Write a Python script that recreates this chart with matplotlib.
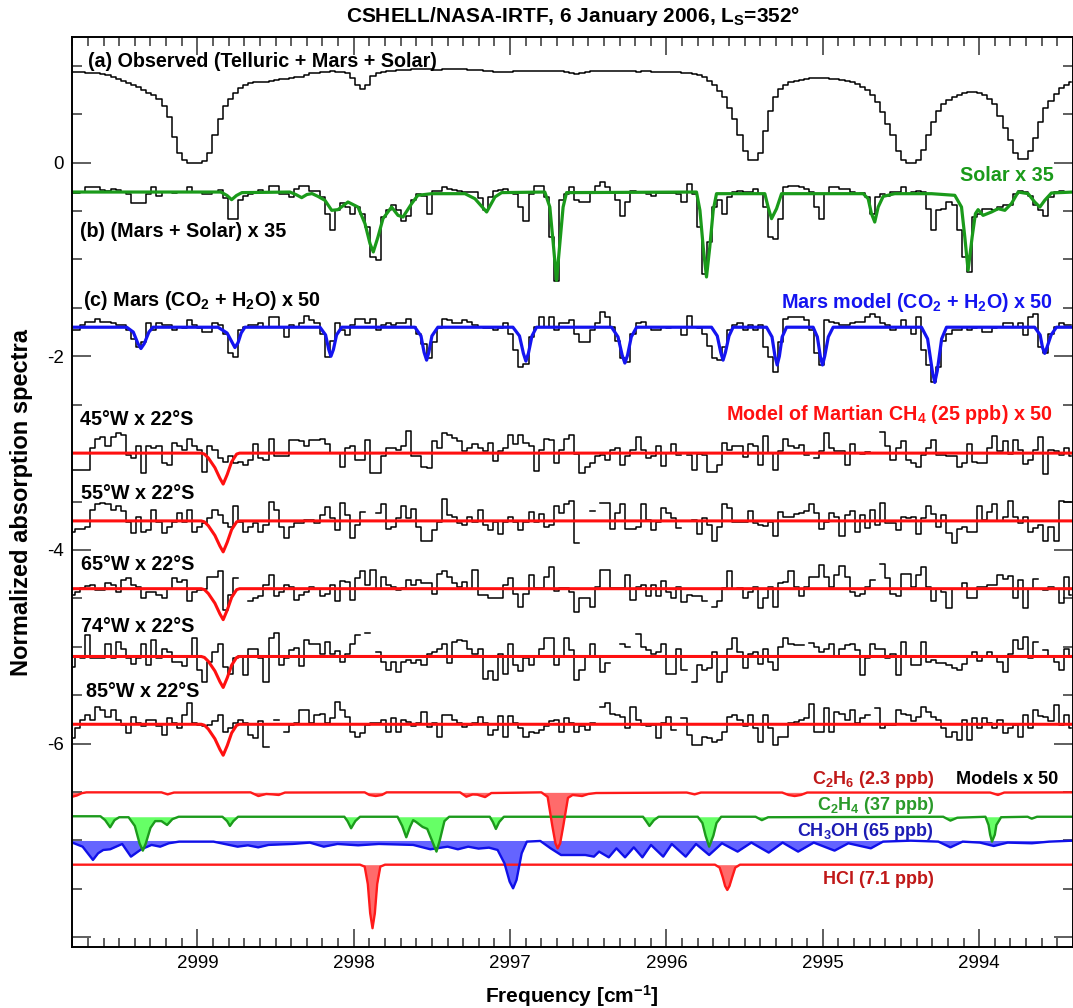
import numpy as np
import matplotlib
matplotlib.use('Agg')
from matplotlib import pyplot as plt
from matplotlib.ticker import MultipleLocator, FuncFormatter

plt.rcParams['font.family'] = ['Liberation Sans', 'DejaVu Sans']
plt.rcParams['mathtext.fontset'] = 'custom'
plt.rcParams['mathtext.rm'] = 'Liberation Sans:bold'
plt.rcParams['mathtext.bf'] = 'Liberation Sans:bold'
plt.rcParams['mathtext.it'] = 'Liberation Sans:bold'
plt.rcParams['mathtext.default'] = 'rm'
plt.rcParams['axes.unicode_minus'] = False

# detector pixel grid (cm-1)
freq_start = 2999.80
freq_step = 0.0326
n_pix = 197

# (a) observed spectrum
obs_a = [0.94, 0.94, 0.94, 0.93, 0.93, 0.92, 0.91, 0.90, 0.88, 0.86,
         0.84, 0.82, 0.80, 0.78, 0.75, 0.72, 0.70, 0.66, 0.58, 0.47,
         0.26, 0.10, 0.03, 0.00, 0.00, 0.00, 0.02, 0.10, 0.28, 0.45,
         0.58, 0.66, 0.72, 0.77, 0.80, 0.82, 0.83, 0.83, 0.83, 0.84,
         0.85, 0.86, 0.86, 0.87, 0.88, 0.88, 0.90, 0.92, 0.93, 0.94,
         0.94, 0.95, 0.94, 0.94, 0.92, 0.87, 0.80, 0.76, 0.80, 0.89,
         0.92, 0.94, 0.95, 0.95, 0.96, 0.96, 0.96, 0.97, 0.97, 0.97,
         0.97, 0.96, 0.96, 0.97, 0.97, 0.97, 0.97, 0.97, 0.96, 0.96,
         0.96, 0.95, 0.95, 0.94, 0.94, 0.94, 0.94, 0.95, 0.95, 0.95,
         0.95, 0.95, 0.95, 0.95, 0.95, 0.95, 0.95, 0.94, 0.92, 0.91,
         0.92, 0.94, 0.95, 0.95, 0.95, 0.95, 0.95, 0.95, 0.95, 0.95,
         0.95, 0.94, 0.95, 0.95, 0.94, 0.94, 0.94, 0.94, 0.94, 0.94,
         0.93, 0.92, 0.91, 0.90, 0.88, 0.84, 0.80, 0.74, 0.68, 0.56,
         0.45, 0.28, 0.12, 0.03, 0.03, 0.10, 0.33, 0.53, 0.68, 0.76,
         0.80, 0.83, 0.84, 0.85, 0.86, 0.87, 0.87, 0.87, 0.87, 0.86,
         0.86, 0.85, 0.84, 0.83, 0.81, 0.78, 0.75, 0.70, 0.63, 0.52,
         0.40, 0.28, 0.12, 0.03, 0.00, 0.00, 0.03, 0.13, 0.28, 0.42,
         0.53, 0.60, 0.65, 0.68, 0.70, 0.72, 0.73, 0.73, 0.72, 0.70,
         0.66, 0.60, 0.48, 0.36, 0.23, 0.10, 0.04, 0.04, 0.12, 0.25,
         0.42, 0.56, 0.64, 0.71, 0.77, 0.80, 0.83]

# (b) Mars + Solar x 35
mars_solar_b = [-0.31, -0.31, -0.30, -0.25, -0.25, -0.25, -0.28, -0.29, -0.27, -0.28,
                -0.30, -0.32, -0.42, -0.42, -0.42, -0.32, -0.25, -0.35, -0.30, -0.30,
                -0.31, -0.30, -0.30, -0.25, -0.30, -0.30, -0.32, -0.32, -0.30, -0.28,
                -0.37, -0.58, -0.58, -0.39, -0.35, -0.32, -0.30, -0.28, -0.30, -0.24,
                -0.24, -0.32, -0.32, -0.36, -0.27, -0.24, -0.24, -0.29, -0.29, -0.36,
                -0.53, -0.70, -0.49, -0.42, -0.46, -0.53, -0.46, -0.53, -0.67, -0.98,
                -1.01, -0.56, -0.49, -0.44, -0.49, -0.60, -0.55, -0.39, -0.32, -0.34,
                -0.53, -0.29, -0.29, -0.25, -0.27, -0.28, -0.29, -0.30, -0.30, -0.30,
                -0.37, -0.49, -0.36, -0.29, -0.28, -0.27, -0.30, -0.32, -0.46, -0.60,
                -0.32, -0.24, -0.24, -0.36, -0.77, -1.22, -0.39, -0.32, -0.25, -0.39,
                -0.41, -0.41, -0.30, -0.24, -0.20, -0.25, -0.30, -0.39, -0.55, -0.41,
                -0.29, -0.30, -0.30, -0.32, -0.34, -0.31, -0.31, -0.31, -0.31, -0.32,
                -0.41, -0.22, -0.32, -0.67, -1.15, -0.82, -0.46, -0.39, -0.53, -0.36,
                -0.30, -0.29, -0.30, -0.30, -0.27, -0.32, -0.46, -0.77, -0.79, -0.58,
                -0.25, -0.24, -0.24, -0.25, -0.27, -0.30, -0.46, -0.58, -0.32, -0.25,
                -0.25, -0.27, -0.27, -0.30, -0.32, -0.31, -0.36, -0.53, -0.36, -0.32,
                -0.34, -0.30, -0.30, -0.25, -0.32, -0.30, -0.29, -0.30, -0.48, -0.70,
                -0.49, -0.48, -0.41, -0.44, -0.70, -0.98, -1.13, -0.56, -0.53, -0.48,
                -0.48, -0.49, -0.46, -0.44, -0.44, -0.32, -0.29, -0.30, -0.34, -0.44,
                -0.49, -0.55, -0.36, -0.30, -0.29, -0.30, -0.30]

solar_freq = [2999.80, 2998.85, 2998.843, 2998.81, 2998.781, 2998.75, 2998.715, 2998.408,
              2998.37, 2998.333, 2998.30, 2998.267, 2998.229, 2998.184, 2998.141, 2998.101,
              2998.037, 2997.973, 2997.928, 2997.896, 2997.875, 2997.845, 2997.813, 2997.758,
              2997.717, 2997.685, 2997.630, 2997.590, 2997.502, 2997.289, 2997.225, 2997.150,
              2997.097, 2997.054, 2996.778, 2996.746, 2996.724, 2996.703, 2996.682, 2996.661,
              2996.639, 2995.808, 2995.786, 2995.765, 2995.744, 2995.723, 2995.701, 2995.680,
              2995.371, 2995.350, 2995.328, 2995.296, 2995.264, 2994.742, 2994.710, 2994.689,
              2994.668, 2994.646, 2994.614, 2994.540, 2994.305, 2994.156, 2994.113, 2994.092,
              2994.071, 2994.045, 2994.024, 2994.007, 2993.975, 2993.921, 2993.879, 2993.836,
              2993.794, 2993.751, 2993.687, 2993.645, 2993.612, 2993.581, 2993.538, 2993.40]
solar_model = [-0.304, -0.304, -0.31, -0.34, -0.383, -0.34, -0.31, -0.304,
               -0.33, -0.362, -0.33, -0.32, -0.349, -0.39, -0.493, -0.486,
               -0.407, -0.459, -0.631, -0.837, -0.923, -0.768, -0.579, -0.459,
               -0.545, -0.562, -0.424, -0.338, -0.321, -0.321, -0.373, -0.510,
               -0.355, -0.310, -0.304, -0.459, -0.837, -1.216, -0.837, -0.459,
               -0.310, -0.304, -0.493, -0.872, -1.181, -0.872, -0.493, -0.321,
               -0.321, -0.459, -0.579, -0.476, -0.321, -0.321, -0.373, -0.527,
               -0.614, -0.459, -0.349, -0.321, -0.321, -0.338, -0.459, -0.768,
               -1.112, -0.768, -0.527, -0.486, -0.545, -0.510, -0.476, -0.493,
               -0.424, -0.304, -0.321, -0.407, -0.459, -0.390, -0.314, -0.304]

# (c) Mars (CO2 + H2O) x 50
mars_c = [-1.73, -1.73, -1.68, -1.65, -1.65, -1.61, -1.65, -1.65, -1.66, -1.68,
          -1.68, -1.73, -1.82, -1.90, -1.85, -1.66, -1.73, -1.66, -1.68, -1.68,
          -1.73, -1.70, -1.71, -1.63, -1.68, -1.71, -1.75, -1.75, -1.66, -1.68,
          -1.77, -1.97, -2.01, -1.73, -1.70, -1.68, -1.68, -1.66, -1.70, -1.59,
          -1.59, -1.70, -1.80, -1.68, -1.70, -1.66, -1.58, -1.63, -1.66, -1.77,
          -2.01, -1.84, -1.66, -1.73, -1.78, -1.68, -1.61, -1.61, -1.66, -1.61,
          -1.73, -1.68, -1.66, -1.68, -1.66, -1.66, -1.61, -1.70, -1.77, -1.87,
          -2.02, -1.85, -1.71, -1.61, -1.63, -1.66, -1.66, -1.63, -1.65, -1.68,
          -1.70, -1.71, -1.71, -1.73, -1.71, -1.66, -1.77, -1.94, -2.11, -2.08,
          -1.80, -1.70, -1.59, -1.70, -1.59, -1.73, -1.66, -1.66, -1.63, -1.77,
          -1.85, -1.85, -1.73, -1.66, -1.54, -1.59, -1.70, -1.84, -2.02, -2.06,
          -1.77, -1.66, -1.65, -1.70, -1.73, -1.73, -1.70, -1.71, -1.70, -1.70,
          -1.78, -1.58, -1.70, -1.71, -1.77, -1.89, -2.02, -2.04, -1.90, -1.73,
          -1.68, -1.66, -1.73, -1.68, -1.73, -1.68, -1.90, -2.01, -2.16, -1.85,
          -1.61, -1.59, -1.59, -1.59, -1.63, -1.73, -1.97, -2.09, -1.63, -1.65,
          -1.66, -1.68, -1.68, -1.66, -1.65, -1.65, -1.59, -1.56, -1.59, -1.66,
          -1.68, -1.73, -1.70, -1.63, -1.70, -1.77, -1.59, -1.94, -2.09, -2.27,
          -2.11, -1.84, -1.77, -1.73, -1.73, -1.70, -1.73, -1.71, -1.70, -1.75,
          -1.75, -1.71, -1.70, -1.66, -1.66, -1.70, -1.66, -1.78, -1.59, -1.56,
          -1.90, -1.97, -1.77, -1.70, -1.66, -1.68, -1.68]

mars_model_freq = [2999.80,
                   2999.452, 2999.41, 2999.38, 2999.361, 2999.34, 2999.31, 2999.284,
                   2998.868, 2998.81, 2998.78, 2998.76, 2998.74, 2998.72, 2998.696,
                   2998.216, 2998.18, 2998.16, 2998.146, 2998.13, 2998.11, 2998.077,
                   2997.609, 2997.57, 2997.55, 2997.534, 2997.52, 2997.50, 2997.462,
                   2996.982, 2996.94, 2996.915, 2996.899, 2996.883, 2996.86, 2996.831,
                   2996.351, 2996.31, 2996.283, 2996.266, 2996.249, 2996.225, 2996.191,
                   2995.712, 2995.675, 2995.653, 2995.638, 2995.623, 2995.60, 2995.574,
                   2995.360, 2995.325, 2995.306, 2995.292, 2995.278, 2995.26, 2995.232,
                   2995.062, 2995.035, 2995.016, 2995.002, 2994.988, 2994.965, 2994.934,
                   2994.369, 2994.33, 2994.30, 2994.284, 2994.268, 2994.24, 2994.209,
                   2993.645, 2993.61, 2993.595, 2993.581, 2993.567, 2993.54, 2993.506,
                   2993.40]
mars_model = [-1.70,
              -1.70, -1.75, -1.87, -1.92, -1.87, -1.75, -1.70,
              -1.70, -1.76, -1.85, -1.91, -1.86, -1.76, -1.70,
              -1.70, -1.78, -1.93, -2.00, -1.93, -1.78, -1.70,
              -1.70, -1.79, -1.96, -2.04, -1.96, -1.79, -1.70,
              -1.70, -1.79, -1.97, -2.05, -1.97, -1.79, -1.70,
              -1.70, -1.80, -1.99, -2.07, -1.99, -1.80, -1.70,
              -1.70, -1.79, -1.96, -2.04, -1.96, -1.79, -1.70,
              -1.70, -1.80, -2.00, -2.09, -2.00, -1.80, -1.70,
              -1.70, -1.80, -2.00, -2.09, -2.00, -1.80, -1.70,
              -1.70, -1.82, -2.15, -2.27, -2.15, -1.82, -1.70,
              -1.70, -1.78, -1.91, -1.97, -1.91, -1.78, -1.70,
              -1.70]

# residuals after removing telluric/solar/Mars lines (x 50), per position
resid_45w = [-0.17, -0.17, -0.17, -0.17, 0.05, 0.15, 0.17, 0.07, 0.17, 0.21,
             0.19, -0.02, -0.05, 0.07, -0.21, 0.07, 0.05, 0.07, -0.10, -0.12,
             0.10, 0.07, 0.03, 0.15, 0.07, 0.03, -0.19, 0.07, 0.03, -0.05,
             -0.09, -0.03, -0.10, -0.09, -0.12, -0.07, 0.09, -0.05, -0.07, 0.15,
             -0.03, -0.03, -0.03, 0.14, 0.14, 0.12, 0.07, 0.14, 0.14, 0.15,
             0.09, 0.00, 0.00, -0.14, 0.05, 0.07, -0.07, -0.07, 0.14, -0.21,
             -0.21, -0.03, 0.05, 0.05, 0.03, 0.07, 0.23, -0.03, -0.03, -0.14,
             -0.15, 0.12, 0.05, 0.21, 0.19, 0.16, 0.12, 0.02, 0.05, 0.09,
             0.05, 0.02, 0.10, -0.08, 0.02, 0.05, 0.19, 0.09, 0.19, 0.10,
             0.07, -0.18, 0.03, 0.15, 0.14, -0.10, 0.03, 0.15, 0.19, -0.01,
             -0.21, -0.14, -0.10, -0.03, -0.02, -0.07, 0.03, 0.05, -0.12, -0.03,
             0.03, 0.17, 0.03, -0.05, -0.03, 0.07, -0.13, 0.00, 0.09, -0.02,
             np.nan, -0.02, -0.17, -0.01, -0.02, -0.19, -0.19, -0.12, 0.10, 0.03,
             0.07, 0.07, -0.04, 0.09, 0.07, -0.12, 0.18, 0.00, -0.17, 0.02,
             0.15, 0.07, 0.05, 0.08, -0.02, np.nan, -0.05, 0.02, 0.21, 0.05,
             0.02, 0.02, -0.12, 0.09, 0.00, -0.01, 0.01, np.nan, np.nan, 0.22,
             0.07, -0.07, 0.05, 0.12, -0.07, -0.10, -0.14, -0.02, 0.05, 0.14,
             -0.02, -0.02, -0.03, -0.03, -0.14, -0.10, 0.09, -0.09, -0.10, -0.10,
             0.05, 0.18, 0.02, 0.12, -0.01, 0.14, 0.03, -0.11, -0.07, 0.03,
             0.17, -0.22, 0.03, 0.02, -0.02, 0.05, -0.03]

resid_55w = [-0.11, -0.08, -0.08, -0.06, 0.11, 0.17, 0.18, 0.17, 0.11, 0.15,
             0.10, -0.01, -0.13, 0.04, -0.11, -0.09, 0.11, -0.01, -0.13, -0.06,
             -0.01, 0.08, -0.01, 0.11, -0.11, -0.06, -0.02, 0.03, 0.11, 0.06,
             -0.02, -0.06, 0.15, -0.01, -0.11, -0.06, -0.02, -0.11, -0.04, 0.20,
             0.11, -0.06, -0.18, -0.06, -0.02, -0.02, 0.01, 0.01, -0.02, 0.06,
             0.14, 0.03, -0.09, 0.18, 0.06, -0.18, -0.04, 0.09, np.nan, np.nan,
             0.08, 0.17, -0.08, -0.06, 0.03, 0.15, 0.03, 0.12, -0.06, -0.21,
             -0.21, -0.09, -0.01, 0.23, 0.06, 0.04, -0.02, -0.04, 0.04, -0.01,
             0.11, -0.04, -0.09, -0.01, -0.14, -0.01, 0.04, -0.01, -0.09, -0.01,
             0.09, -0.01, 0.07, -0.06, -0.04, 0.15, 0.08, 0.17, 0.21, -0.23,
             np.nan, np.nan, 0.10, np.nan, 0.18, 0.18, -0.08, 0.08, 0.17, -0.08,
             -0.08, -0.06, 0.17, 0.01, -0.09, -0.01, 0.13, 0.08, 0.03, -0.07,
             np.nan, np.nan, 0.01, -0.14, 0.03, -0.04, -0.21, -0.06, 0.17, 0.13,
             -0.01, -0.01, -0.01, 0.10, -0.02, -0.04, -0.05, -0.01, -0.16, 0.09,
             0.04, 0.04, 0.07, 0.08, 0.10, 0.17, 0.08, -0.08, -0.01, 0.08,
             0.04, -0.16, 0.06, 0.10, -0.11, 0.06, -0.07, 0.11, -0.04, 0.19,
             -0.02, -0.02, -0.09, 0.04, 0.03, 0.04, -0.14, 0.03, 0.15, 0.07,
             -0.06, 0.06, -0.13, -0.23, -0.08, -0.06, -0.11, -0.11, 0.15, 0.01,
             0.09, 0.17, 0.00, 0.04, 0.21, 0.04, -0.02, 0.04, -0.11, -0.07,
             -0.04, -0.21, -0.06, -0.21, 0.21, 0.20, 0.20]

resid_65w = [-0.07, -0.03, 0.01, 0.03, 0.04, -0.01, -0.01, 0.06, 0.04, -0.03,
             0.09, 0.11, 0.04, 0.02, -0.10, -0.03, -0.03, -0.07, -0.10, 0.00,
             0.11, 0.07, 0.09, -0.13, -0.03, -0.01, 0.00, 0.12, 0.12, 0.18,
             -0.22, -0.07, 0.11, np.nan, np.nan, -0.13, -0.10, -0.08, 0.04, 0.14,
             -0.08, -0.03, 0.04, 0.02, -0.12, -0.07, -0.03, 0.02, 0.00, -0.08,
             -0.05, 0.04, -0.13, 0.08, 0.07, -0.12, 0.11, 0.18, 0.04, 0.19,
             0.00, 0.12, 0.04, 0.02, -0.01, 0.01, 0.09, 0.04, 0.09, 0.06,
             0.06, -0.05, 0.15, 0.18, 0.12, 0.06, 0.02, 0.07, 0.00, 0.19,
             -0.06, -0.07, -0.10, -0.10, -0.10, 0.04, 0.11, -0.05, -0.19, -0.05,
             0.14, 0.01, 0.01, 0.12, 0.22, -0.02, 0.01, 0.01, -0.03, -0.24,
             -0.10, -0.10, -0.19, 0.02, 0.19, 0.19, 0.01, 0.01, 0.01, 0.14,
             -0.12, 0.02, 0.04, -0.08, 0.04, -0.08, 0.08, -0.03, -0.10, 0.02,
             -0.14, -0.07, -0.08, -0.08, -0.13, np.nan, -0.19, -0.13, 0.01, 0.18,
             0.00, 0.01, -0.10, -0.03, 0.02, -0.20, -0.10, 0.02, -0.19, 0.06,
             0.07, 0.18, 0.02, -0.08, 0.02, 0.12, 0.12, 0.24, 0.12, 0.02,
             0.14, 0.23, 0.12, -0.03, -0.08, -0.05, 0.02, 0.09, np.nan, 0.25,
             0.11, -0.05, -0.08, 0.15, 0.15, 0.02, 0.14, 0.22, 0.02, -0.13,
             0.00, -0.03, -0.20, 0.00, 0.00, 0.06, -0.10, -0.10, 0.02, 0.02,
             0.04, 0.04, 0.14, 0.10, 0.13, -0.10, 0.09, -0.20, 0.00, 0.10,
             np.nan, -0.01, 0.02, 0.00, -0.15, 0.12, -0.07]

resid_74w = [-0.11, 0.01, -0.02, 0.22, -0.02, -0.02, -0.02, 0.13, -0.02, 0.15,
             0.08, -0.02, -0.08, -0.02, 0.13, -0.09, 0.17, -0.02, 0.08, 0.05,
             -0.06, -0.06, -0.10, 0.00, 0.19, -0.14, -0.26, -0.06, 0.05, 0.13,
             -0.11, -0.18, -0.02, 0.01, -0.19, 0.08, 0.08, -0.02, -0.26, 0.19,
             0.24, -0.09, -0.02, 0.07, 0.09, -0.10, 0.17, 0.13, 0.13, 0.03,
             0.15, 0.03, 0.06, -0.06, 0.03, 0.13, 0.22, np.nan, 0.24, np.nan,
             0.05, -0.06, -0.14, -0.06, -0.16, -0.06, -0.04, -0.07, -0.04, -0.09,
             0.03, 0.05, 0.08, 0.13, -0.07, 0.15, 0.17, 0.16, 0.08, 0.03,
             0.08, -0.23, -0.15, -0.24, 0.03, -0.18, 0.13, -0.09, -0.15, -0.02,
             -0.09, 0.00, 0.08, 0.19, 0.19, -0.09, 0.01, 0.19, 0.07, -0.24,
             -0.14, 0.01, 0.13, 0.00, -0.16, -0.07, np.nan, np.nan, 0.13, 0.10,
             np.nan, 0.23, 0.10, 0.07, 0.03, 0.05, 0.13, -0.18, -0.18, 0.08,
             -0.14, np.nan, -0.26, -0.09, -0.14, -0.12, 0.05, -0.26, -0.16, 0.08,
             0.19, 0.05, -0.12, 0.03, 0.05, -0.08, 0.08, -0.06, -0.14, 0.10,
             0.19, 0.13, 0.12, 0.12, np.nan, 0.14, 0.10, 0.05, 0.08, 0.13,
             0.01, 0.08, 0.12, 0.13, 0.07, -0.19, -0.02, 0.13, 0.08, 0.08,
             -0.02, 0.03, -0.19, 0.15, 0.00, -0.09, -0.09, 0.15, -0.06, -0.04,
             -0.07, -0.07, -0.09, -0.12, -0.14, -0.08, 0.01, 0.05, -0.05, 0.00,
             0.05, 0.00, -0.06, -0.16, 0.03, 0.17, 0.08, 0.20, -0.02, 0.15,
             np.nan, 0.07, 0.01, -0.06, -0.14, 0.08, 0.00]

resid_85w = [-0.14, -0.04, 0.04, 0.10, 0.04, 0.18, 0.15, 0.08, 0.15, 0.04,
             -0.01, -0.09, 0.07, 0.01, -0.02, 0.04, 0.04, -0.02, -0.11, 0.06,
             0.01, -0.04, 0.10, 0.22, 0.01, -0.01, -0.02, -0.01, 0.03, 0.10,
             -0.08, -0.04, 0.01, 0.04, 0.01, -0.11, -0.14, 0.03, -0.23, np.nan,
             0.04, np.nan, -0.08, -0.01, 0.01, 0.15, 0.15, 0.01, 0.10, 0.11,
             0.01, 0.06, 0.23, 0.15, 0.08, -0.08, -0.13, -0.09, -0.01, 0.01,
             0.01, 0.04, -0.08, 0.06, -0.08, 0.04, 0.02, -0.02, 0.01, 0.13,
             -0.03, 0.01, -0.13, 0.10, 0.10, 0.04, 0.01, -0.03, -0.01, 0.01,
             0.07, 0.01, -0.11, -0.06, 0.09, -0.13, 0.09, 0.01, -0.04, -0.13,
             -0.08, -0.09, -0.06, -0.02, 0.03, 0.04, -0.08, 0.06, 0.01, -0.08,
             -0.02, -0.06, 0.01, np.nan, 0.18, 0.22, 0.11, 0.10, 0.08, -0.04,
             0.18, 0.04, -0.01, -0.02, -0.01, -0.14, 0.01, 0.07, -0.06, np.nan,
             0.06, -0.11, -0.21, -0.21, -0.13, -0.14, -0.18, -0.16, -0.08, 0.07,
             0.10, 0.04, -0.02, 0.10, -0.04, -0.18, 0.10, -0.04, -0.21, -0.13,
             -0.13, 0.01, 0.02, 0.04, 0.06, 0.21, -0.08, -0.08, 0.17, -0.08,
             0.13, 0.11, 0.04, 0.15, 0.01, 0.06, 0.10, np.nan, 0.17, -0.04,
             -0.01, -0.01, 0.15, 0.11, 0.10, 0.03, 0.08, 0.18, 0.13, 0.08,
             0.04, -0.04, -0.13, -0.08, -0.16, 0.04, -0.16, 0.06, -0.04, 0.06,
             0.01, -0.04, 0.04, -0.09, -0.04, -0.01, -0.13, 0.10, -0.04, 0.15,
             0.09, 0.07, 0.03, 0.20, -0.01, 0.10, -0.04]

positions = ['45°W x 22°S', '55°W x 22°S', '65°W x 22°S', '74°W x 22°S', '85°W x 22°S']

# CH4 model (25 ppb) x 50, relative to continuum
ch4_freq = [2999.80, 2998.975, 2998.955, 2998.930, 2998.888, 2998.856, 2998.835,
            2998.809, 2998.781, 2998.749, 2998.73, 2993.40]
ch4_model = [0.0, 0.0, -0.01, -0.05, -0.15, -0.26, -0.32, -0.22, -0.09, -0.01, 0.0, 0.0]

# other species models x 50
c2h6_freq = [2999.80, 2999.77, 2999.74, 2999.71, 2999.23, 2999.19, 2999.15, 2998.66,
             2998.61, 2998.56, 2998.52, 2998.48, 2998.44, 2997.93, 2997.90, 2997.86,
             2997.82, 2997.79, 2997.32, 2997.28, 2997.24, 2997.21, 2997.16, 2997.12,
             2996.80, 2996.76, 2996.73, 2996.71, 2996.696, 2996.68, 2996.66, 2996.63,
             2996.60, 2996.54, 2996.50, 2996.45, 2995.87, 2995.82, 2995.78, 2995.26,
             2995.22, 2995.18, 2995.14, 2995.10, 2993.93, 2993.88, 2993.84, 2993.40]
c2h6_model = [-6.548, -6.535, -6.512, -6.503, -6.503, -6.524, -6.505, -6.503,
              -6.541, -6.520, -6.524, -6.530, -6.505, -6.503, -6.530, -6.541,
              -6.530, -6.503, -6.503, -6.548, -6.525, -6.527, -6.552, -6.510,
              -6.503, -6.55, -6.85, -7.03, -7.081, -7.03, -6.85, -6.56,
              -6.53, -6.541, -6.52, -6.51, -6.505, -6.524, -6.505, -6.505,
              -6.53, -6.541, -6.53, -6.505, -6.505, -6.530, -6.505, -6.503]

c2h4_freq = [2999.80, 2999.62, 2999.59, 2999.558, 2999.53, 2999.50, 2999.44, 2999.40,
             2999.37, 2999.349, 2999.33, 2999.30, 2999.27, 2999.23, 2999.194, 2999.16,
             2999.12, 2998.84, 2998.81, 2998.792, 2998.77, 2998.74, 2998.06, 2998.04,
             2998.017, 2997.99, 2997.96, 2997.72, 2997.69, 2997.664, 2997.64, 2997.62,
             2997.60, 2997.56, 2997.53, 2997.50, 2997.471, 2997.45, 2997.42, 2997.39,
             2997.13, 2997.11, 2997.091, 2997.07, 2997.04, 2996.15, 2996.13, 2996.109,
             2996.08, 2996.05, 2995.80, 2995.77, 2995.75, 2995.727, 2995.70, 2995.68,
             2995.65, 2995.43, 2995.39, 2995.35, 2994.23, 2994.184, 2994.14, 2993.96,
             2993.94, 2993.93, 2993.918, 2993.90, 2993.89, 2993.86, 2993.69, 2993.664,
             2993.63, 2993.40]
c2h4_model = [-6.75, -6.75, -6.79, -6.864, -6.79, -6.76, -6.76, -6.85,
              -7.03, -7.105, -7.03, -6.87, -6.80, -6.80, -6.84, -6.78,
              -6.755, -6.755, -6.80, -6.85, -6.80, -6.755, -6.755, -6.80,
              -6.874, -6.80, -6.755, -6.755, -6.85, -6.967, -6.86, -6.79,
              -6.81, -6.86, -6.88, -7.00, -7.115, -7.00, -6.80, -6.755,
              -6.755, -6.81, -6.881, -6.81, -6.755, -6.755, -6.80, -6.85,
              -6.79, -6.755, -6.755, -6.82, -6.95, -7.064, -6.95, -6.82,
              -6.755, -6.755, -6.79, -6.76, -6.755, -6.795, -6.765, -6.755,
              -6.84, -6.94, -7.012, -6.94, -6.84, -6.76, -6.755, -6.775,
              -6.755, -6.755]

ch3oh_freq = [2999.800, 2999.734, 2999.668, 2999.635, 2999.602, 2999.558, 2999.481, 2999.425,
              2999.359, 2999.293, 2999.238, 2999.183, 2999.117, 2998.897, 2998.743, 2998.677,
              2998.611, 2998.545, 2998.391, 2998.281, 2998.192, 2998.104, 2997.972, 2997.840,
              2997.620, 2997.510, 2997.400, 2997.334, 2997.268, 2997.202, 2997.135, 2997.080,
              2997.036, 2997.003, 2996.981, 2996.959, 2996.926, 2996.893, 2996.807, 2996.741,
              2996.674, 2996.519, 2996.464, 2996.431, 2996.369, 2996.320, 2996.265, 2996.209,
              2996.154, 2996.099, 2996.021, 2995.966, 2995.877, 2995.811, 2995.727, 2995.645,
              2995.545, 2995.457, 2995.346, 2995.257, 2995.158, 2995.058, 2994.925, 2994.837,
              2994.693, 2994.615, 2994.438, 2994.261, 2994.184, 2994.106, 2993.995, 2993.907,
              2993.818, 2993.663, 2993.553, 2993.402]
ch3oh_model = [-7.022, -7.064, -7.201, -7.132, -7.098, -7.091, -7.036, -7.167,
               -7.091, -7.046, -7.064, -7.029, -7.012, -7.012, -7.064, -7.050,
               -7.071, -7.046, -7.036, -7.022, -7.064, -7.036, -7.050, -7.036,
               -7.046, -7.091, -7.064, -7.091, -7.064, -7.084, -7.074, -7.098,
               -7.236, -7.425, -7.494, -7.408, -7.132, -7.012, -7.005, -7.081,
               -7.150, -7.150, -7.167, -7.115, -7.174, -7.081, -7.174, -7.071,
               -7.174, -7.046, -7.167, -7.036, -7.167, -7.036, -7.150, -7.029,
               -7.115, -7.022, -7.125, -7.022, -7.115, -7.022, -7.105, -7.029,
               -7.081, -7.012, -7.002, -7.012, -7.071, -7.012, -7.022, -7.057,
               -7.022, -7.029, -7.012, -7.002]

hcl_freq = [2999.80, 2997.96, 2997.93, 2997.91, 2997.895, 2997.880, 2997.865, 2997.85,
            2997.83, 2997.80, 2995.69, 2995.66, 2995.64, 2995.625, 2995.611, 2995.597,
            2995.58, 2995.56, 2995.53, 2993.40]
hcl_model = [-7.25, -7.25, -7.27, -7.45, -7.75, -7.906, -7.75, -7.45,
             -7.27, -7.25, -7.25, -7.28, -7.38, -7.47, -7.511, -7.47,
             -7.38, -7.28, -7.25, -7.25]

species = [
    ('HCl (7.1 ppb)', hcl_freq, hcl_model, -7.25, '#ff1a1a', '#ff6b6b', '#c01818', 883.5),
    ('CH$_3$OH (65 ppb)', ch3oh_freq, ch3oh_model, -7.00, '#1010e8', '#6464ff', '#1c1cb4', 835.5),
    ('C$_2$H$_4$ (37 ppb)', c2h4_freq, c2h4_model, -6.755, '#1c9a1c', '#66ff66', '#2a9a2a', 809.5),
    ('C$_2$H$_6$ (2.3 ppb)', c2h6_freq, c2h6_model, -6.503, '#ff1a1a', '#ff6b6b', '#c01818', 784),
]

W, H = 1073, 1008
fig = plt.figure(figsize=(W / 100, H / 100), dpi=100)
ax = fig.add_axes([72.3 / W, 1 - 947 / H, (W - 72.3) / W, (947 - 36.7) / H])

freq = freq_start - freq_step * np.arange(n_pix)
step_kw = dict(where='mid', color='black', lw=1.1)

ax.step(freq, obs_a, **step_kw)
ax.step(freq, mars_solar_b, **step_kw)
ax.plot(solar_freq, solar_model, color='#1a9a1a', lw=2.3)
ax.step(freq, mars_c, **step_kw)
ax.plot(mars_model_freq, mars_model, color='#1414f0', lw=2.3)

offsets = [-3.0, -3.7, -4.4, -5.1, -5.8]
resids = [resid_45w, resid_55w, resid_65w, resid_74w, resid_85w]
for off, r in zip(offsets, resids):
    ax.step(freq, off + np.array(r), **step_kw)
    ax.plot(ch4_freq, off + np.array(ch4_model), color='#ff1010', lw=2.2)

for name, fx, fy, base, lc, fc, tc, ty in species:
    fx = np.array(fx)
    fy = np.array(fy)
    ax.fill_between(fx, fy, base, where=fy <= base + 0.001, color=fc, lw=0,
                    interpolate=True)
    ax.plot(fx, fy, color=lc, lw=1.7)

ax.set_xlim(2999.80, 2993.40)
ax.set_ylim(-8.10, 1.30)
ax.xaxis.set_major_locator(MultipleLocator(1))
ax.xaxis.set_minor_locator(MultipleLocator(0.1))
ax.yaxis.set_major_locator(MultipleLocator(2))
ax.yaxis.set_minor_locator(MultipleLocator(0.5))
ax.xaxis.set_major_formatter(FuncFormatter(lambda v, p: '%d' % round(v)))
ax.yaxis.set_major_formatter(FuncFormatter(lambda v, p: '' if v < -7 else '%d' % round(v)))
ax.tick_params(which='both', direction='in', top=True, right=True, width=1.1,
               labelsize=13.5, color='#333333')
ax.tick_params(axis='x', which='major', length=12.7, pad=6)
ax.tick_params(axis='x', which='minor', length=6.2)
ax.tick_params(axis='y', which='major', length=14, pad=6)
ax.tick_params(axis='y', which='minor', length=7)
for s in ax.spines.values():
    s.set_linewidth(1.4)


def label(x, y, s, ha='left', color='black', size=14.2):
    # x, y in image pixels; y is the baseline
    fig.text(x / W, 1 - y / H, s, ha=ha, va='baseline', color=color,
             fontsize=size, fontweight='bold')


label(88, 67, '(a) Observed (Telluric + Mars + Solar)')
label(80, 237, '(b) (Mars + Solar) x 35')
label(1054, 181, 'Solar x 35', ha='right', color='#1a9a1a')
label(83, 306, '(c) Mars (CO$_2$ + H$_2$O) x 50')
label(1053, 307.5, 'Mars model (CO$_2$ + H$_2$O) x 50', ha='right', color='#1414f0')
label(1053, 420, 'Model of Martian CH$_4$ (25 ppb) x 50', ha='right', color='#ff1010')
for name, ly, lx in zip(positions, [425, 499, 570.5, 632, 697], [80, 81, 81, 81, 86]):
    label(lx, ly, name)
for name, fx, fy, base, lc, fc, tc, ty in species:
    label(934, ty, name, ha='right', color=tc, size=13)
label(1058, 784, 'Models x 50', ha='right', size=13)

fig.text(573 / W, 1 - 22 / H, 'CSHELL/NASA-IRTF, 6 January 2006, L$_\\mathrm{S}$=352°',
         ha='center', va='baseline', fontsize=15, fontweight='bold')
fig.text(572 / W, 1 - 1003 / H, 'Frequency [cm$^{-1}$]', ha='center', va='baseline',
         fontsize=15, fontweight='bold')
fig.text(28.3 / W, 1 - 502.5 / H, 'Normalized absorption spectra', ha='center', va='baseline',
         rotation=90, rotation_mode='anchor', fontsize=17, fontweight='bold')

fig.savefig('out.png', dpi=100)
